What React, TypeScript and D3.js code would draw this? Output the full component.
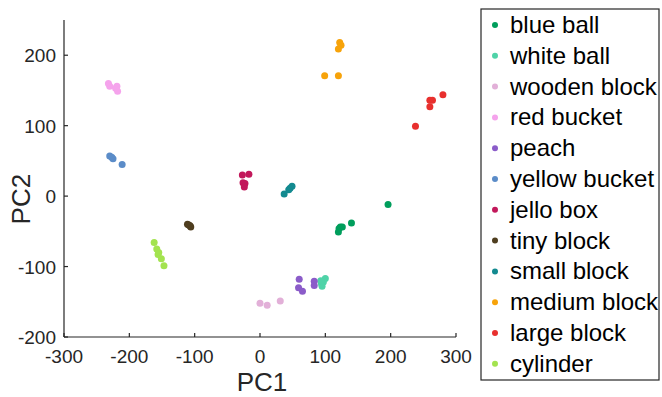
import React from 'react';
import * as d3 from 'd3';

// PCA scatter of grasped objects
const objectNames = [
  'blue ball', 'white ball', 'wooden block', 'red bucket', 'peach', 'yellow bucket',
  'jello box', 'tiny block', 'small block', 'medium block', 'large block', 'cylinder',
];
const objectColors = [
  '#009E5C', '#4FD3A8', '#E2B0D8', '#F5A3EC', '#8B5CC9', '#5B8CC8',
  '#C2185B', '#4F3E1F', '#138A90', '#F7A30A', '#E8302E', '#A3E34F',
];
const pc1 = [
  [196, 140, 123, 120, 121, 126],
  [100, 94, 97, 95, 93],
  [0, 11, 31],
  [-232, -230, -219, -218, -221],
  [60, 59, 65, 83, 83],
  [-230, -225, -211, -227],
  [-27, -17, -26, -23, -24],
  [-111, -107, -106, -109],
  [37, 46, 49, 44],
  [122, 124, 120, 99, 120],
  [280, 264, 260, 260, 238],
  [-162, -158, -156, -151, -147, -155],
];
const pc2 = [
  [-12, -38, -44, -51, -46, -44],
  [-117, -124, -122, -128, -120],
  [-152, -155, -149],
  [160, 156, 156, 149, 153],
  [-118, -130, -135, -121, -127],
  [57, 53, 45, 55],
  [30, 31, 19, 18, 13],
  [-40, -42, -44, -41],
  [3, 11, 14, 9],
  [218, 214, 209, 171, 171],
  [144, 136, 136, 127, 99],
  [-66, -75, -83, -89, -99, -80],
];
const xTicks = [-300, -200, -100, 0, 100, 200, 300];
const yTicks = [-200, -100, 0, 100, 200];

const W = 662;
const H = 397;
const FONT = '"Liberation Sans", Arial, Helvetica, sans-serif';
const AXIS = '#262626';

export default function App() {
  const x = d3.scaleLinear().domain([-300, 300]).range([64, 456]);
  const y = d3.scaleLinear().domain([-200, 250]).range([337, 20]);

  const points = objectNames.flatMap((name, i) =>
    pc1[i].map((v, j) => ({ key: `${name}-${j}`, cx: x(v), cy: y(pc2[i][j]), color: objectColors[i] })),
  );

  const legendX = 481, legendY = 9, legendW = 178, legendH = 371;
  const rowStep = 30.8;

  return (
    <svg width={W} height={H} style={{ position: 'absolute', left: 0, top: 0, fontFamily: FONT }}>
      <rect width={W} height={H} fill="#fff" />

      {/* axes */}
      <line x1={x(-300)} x2={x(300)} y1={y(-200)} y2={y(-200)} stroke={AXIS} strokeWidth={1.2} />
      <line x1={x(-300)} x2={x(-300)} y1={y(-200)} y2={y(250)} stroke={AXIS} strokeWidth={1.2} />
      {xTicks.map(t => (
        <g key={`xt${t}`}>
          <line x1={x(t)} x2={x(t)} y1={y(-200)} y2={y(-200) - 4} stroke={AXIS} strokeWidth={1.2} />
          <text x={x(t)} y={363} textAnchor="middle" fontSize={19} fill={AXIS}>{t}</text>
        </g>
      ))}
      {yTicks.map(t => (
        <g key={`yt${t}`}>
          <line x1={x(-300)} x2={x(-300) + 4} y1={y(t)} y2={y(t)} stroke={AXIS} strokeWidth={1.2} />
          <text x={56} y={y(t) + 7} textAnchor="end" fontSize={19} fill={AXIS}>{t}</text>
        </g>
      ))}
      <text x={x(0) + 2} y={391} textAnchor="middle" fontSize={26} fill={AXIS}>PC1</text>
      <text transform={`translate(30,${y(0) + 3}) rotate(-90)`} textAnchor="middle" fontSize={26} fill={AXIS}>PC2</text>

      {/* data */}
      {points.map(p => (
        <circle key={p.key} cx={p.cx} cy={p.cy} r={3.5} fill={p.color} />
      ))}

      {/* legend */}
      <rect x={legendX} y={legendY} width={legendW} height={legendH} fill="#fff" stroke={AXIS} strokeWidth={1.2} />
      {objectNames.map((name, i) => {
        const cy = 25 + i * rowStep;
        return (
          <g key={name}>
            <circle cx={495} cy={cy} r={3} fill={objectColors[i]} />
            <text x={510} y={cy + 8} fontSize={24} fill="#000">{name}</text>
          </g>
        );
      })}
    </svg>
  );
}
